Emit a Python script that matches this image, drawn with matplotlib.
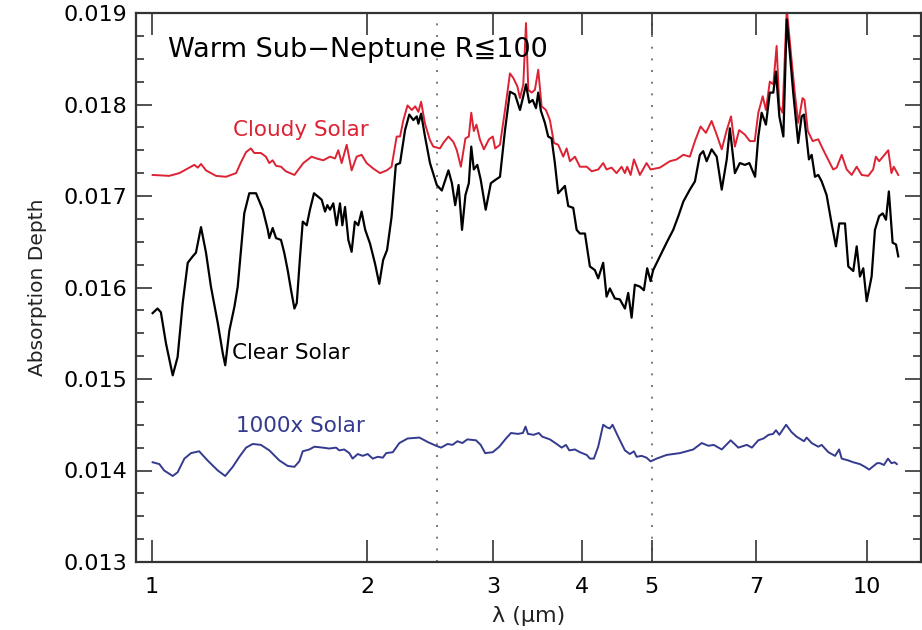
import numpy as np
import matplotlib
matplotlib.use("Agg")
import matplotlib.pyplot as plt
from matplotlib.ticker import FixedLocator, NullLocator, MultipleLocator, FormatStrFormatter

plt.rcParams['font.family'] = ['DejaVu Sans']

# wavelength (micron) / absorption depth
clear_x = [1.002, 1.018, 1.029, 1.046, 1.069, 1.086, 1.104, 1.122, 1.140, 1.152,
           1.171, 1.190, 1.209, 1.236, 1.256, 1.266, 1.283, 1.304, 1.318, 1.332,
           1.346, 1.368, 1.398, 1.429, 1.452, 1.459, 1.475, 1.491, 1.515, 1.531,
           1.548, 1.565, 1.582, 1.594, 1.611, 1.625, 1.646, 1.663, 1.685, 1.709,
           1.727, 1.746, 1.759, 1.774, 1.793, 1.812, 1.832, 1.846, 1.862, 1.882,
           1.902, 1.922, 1.943, 1.964, 1.987, 2.018, 2.051, 2.079, 2.105, 2.132,
           2.163, 2.193, 2.223, 2.259, 2.290, 2.320, 2.346, 2.358, 2.379, 2.409,
           2.448, 2.502, 2.543, 2.570, 2.598, 2.627, 2.655, 2.684, 2.714, 2.744,
           2.774, 2.796, 2.819, 2.851, 2.882, 2.929, 2.978, 3.027, 3.067, 3.117,
           3.167, 3.219, 3.271, 3.306, 3.335, 3.370, 3.407, 3.444, 3.469, 3.499,
           3.544, 3.582, 3.621, 3.660, 3.699, 3.740, 3.780, 3.821, 3.883, 3.926,
           3.967, 4.032, 4.097, 4.163, 4.208, 4.276, 4.323, 4.369, 4.440, 4.512,
           4.586, 4.635, 4.686, 4.735, 4.812, 4.875, 4.927, 4.981, 5.023, 5.133,
           5.245, 5.358, 5.447, 5.536, 5.653, 5.746, 5.838, 5.901, 5.967, 6.063,
           6.163, 6.264, 6.366, 6.430, 6.535, 6.640, 6.750, 6.846, 6.974, 7.047,
           7.123, 7.222, 7.313, 7.396, 7.459, 7.541, 7.639, 7.723, 7.800, 7.885,
           8.013, 8.102, 8.163, 8.234, 8.295, 8.368, 8.458, 8.548, 8.642, 8.781,
           8.923, 9.048, 9.146, 9.316, 9.416, 9.568, 9.674, 9.776, 9.881, 9.990,
           10.15, 10.26, 10.40, 10.52, 10.63, 10.73, 10.86, 10.98, 11.06]
clear_y = [0.01572, 0.01577, 0.01573, 0.01539, 0.01504, 0.01524, 0.01583, 0.01627, 0.01634, 0.01638,
           0.01666, 0.01638, 0.01601, 0.01561, 0.01528, 0.01515, 0.01553, 0.01579, 0.01601, 0.01641,
           0.01681, 0.01703, 0.01703, 0.01685, 0.01663, 0.01654, 0.01665, 0.01654, 0.01652, 0.01638,
           0.01619, 0.01597, 0.01577, 0.01583, 0.01634, 0.01672, 0.01668, 0.01685, 0.01703, 0.01699,
           0.01696, 0.01683, 0.01690, 0.01685, 0.01692, 0.01668, 0.01692, 0.01668, 0.01688, 0.01652,
           0.01639, 0.01672, 0.01668, 0.01683, 0.01663, 0.01648, 0.01626, 0.01604, 0.01630, 0.01641,
           0.01677, 0.01734, 0.01736, 0.01772, 0.01789, 0.01783, 0.01787, 0.01779, 0.01790, 0.01765,
           0.01736, 0.01712, 0.01706, 0.01717, 0.01728, 0.01714, 0.01690, 0.01712, 0.01663, 0.01701,
           0.01714, 0.01754, 0.01729, 0.01734, 0.01718, 0.01685, 0.01714, 0.01718, 0.01721, 0.01772,
           0.01814, 0.01811, 0.01794, 0.01809, 0.01822, 0.01802, 0.01805, 0.01796, 0.01813, 0.01793,
           0.01780, 0.01765, 0.01763, 0.01736, 0.01703, 0.01707, 0.01711, 0.01689, 0.01687, 0.01663,
           0.01659, 0.01659, 0.01623, 0.01619, 0.01610, 0.01627, 0.01590, 0.01599, 0.01588, 0.01587,
           0.01577, 0.01594, 0.01567, 0.01603, 0.01601, 0.01597, 0.01621, 0.01607, 0.01619, 0.01634,
           0.01649, 0.01663, 0.01678, 0.01694, 0.01707, 0.01716, 0.01745, 0.01749, 0.01738, 0.01751,
           0.01743, 0.01707, 0.01740, 0.01774, 0.01725, 0.01736, 0.01734, 0.01736, 0.01721, 0.01765,
           0.01791, 0.01778, 0.01813, 0.01813, 0.01836, 0.01787, 0.01765, 0.01893, 0.01856, 0.01813,
           0.01758, 0.01787, 0.01789, 0.01762, 0.01740, 0.01745, 0.01721, 0.01723, 0.01716, 0.01701,
           0.01670, 0.01645, 0.01670, 0.01670, 0.01623, 0.01618, 0.01645, 0.01612, 0.01621, 0.01585,
           0.01612, 0.01663, 0.01678, 0.01681, 0.01674, 0.01705, 0.01649, 0.01647, 0.01634]

cloudy_x = [1.002, 1.057, 1.092, 1.128, 1.146, 1.159, 1.171, 1.190, 1.229, 1.269,
            1.311, 1.332, 1.354, 1.375, 1.390, 1.420, 1.443, 1.459, 1.475, 1.491,
            1.515, 1.539, 1.582, 1.628, 1.672, 1.699, 1.736, 1.774, 1.803, 1.822,
            1.842, 1.872, 1.902, 1.933, 1.964, 1.996, 2.039, 2.084, 2.130, 2.163,
            2.199, 2.223, 2.247, 2.277, 2.309, 2.334, 2.358, 2.379, 2.409, 2.448,
            2.474, 2.528, 2.555, 2.598, 2.640, 2.669, 2.704, 2.744, 2.774, 2.796,
            2.819, 2.843, 2.874, 2.912, 2.960, 2.997, 3.020, 3.067, 3.117, 3.167,
            3.201, 3.243, 3.271, 3.306, 3.335, 3.360, 3.396, 3.432, 3.469, 3.507,
            3.556, 3.602, 3.649, 3.699, 3.760, 3.801, 3.842, 3.904, 3.967, 4.055,
            4.121, 4.208, 4.276, 4.323, 4.393, 4.464, 4.537, 4.586, 4.620, 4.671,
            4.721, 4.812, 4.917, 4.981, 5.133, 5.301, 5.417, 5.536, 5.653, 5.746,
            5.851, 5.953, 6.063, 6.163, 6.264, 6.366, 6.454, 6.535, 6.625, 6.750,
            6.857, 6.966, 7.047, 7.148, 7.222, 7.313, 7.396, 7.475, 7.541, 7.620,
            7.723, 7.843, 7.925, 8.013, 8.126, 8.177, 8.265, 8.395, 8.548, 8.642,
            8.781, 8.968, 9.070, 9.218, 9.367, 9.520, 9.674, 9.831, 10.04, 10.20,
            10.29, 10.40, 10.71, 10.82, 10.90, 11.06]
cloudy_y = [0.01723, 0.01722, 0.01725, 0.01731, 0.01734, 0.01731, 0.01735, 0.01728, 0.01722, 0.01721,
            0.01725, 0.01737, 0.01748, 0.01752, 0.01747, 0.01747, 0.01743, 0.01736, 0.01739, 0.01733,
            0.01732, 0.01727, 0.01723, 0.01736, 0.01743, 0.01741, 0.01739, 0.01743, 0.01741, 0.01750,
            0.01736, 0.01756, 0.01728, 0.01743, 0.01745, 0.01736, 0.01730, 0.01725, 0.01728, 0.01732,
            0.01765, 0.01765, 0.01783, 0.01799, 0.01794, 0.01798, 0.01792, 0.01803, 0.01779, 0.01761,
            0.01754, 0.01752, 0.01758, 0.01765, 0.01759, 0.01750, 0.01732, 0.01763, 0.01765, 0.01791,
            0.01771, 0.01778, 0.01762, 0.01751, 0.01762, 0.01765, 0.01752, 0.01756, 0.01794, 0.01834,
            0.01829, 0.01820, 0.01807, 0.01822, 0.01889, 0.01816, 0.01813, 0.01816, 0.01838, 0.01798,
            0.01794, 0.01783, 0.01758, 0.01756, 0.01743, 0.01752, 0.01738, 0.01743, 0.01732, 0.01732,
            0.01727, 0.01729, 0.01736, 0.01729, 0.01731, 0.01725, 0.01732, 0.01725, 0.01732, 0.01723,
            0.01740, 0.01723, 0.01736, 0.01729, 0.01731, 0.01738, 0.01740, 0.01745, 0.01743, 0.01760,
            0.01776, 0.01769, 0.01782, 0.01767, 0.01751, 0.01772, 0.01787, 0.01754, 0.01772, 0.01767,
            0.01760, 0.01760, 0.01791, 0.01809, 0.01794, 0.01825, 0.01822, 0.01864, 0.01798, 0.01791,
            0.01905, 0.01849, 0.01813, 0.01780, 0.01807, 0.01805, 0.01771, 0.01760, 0.01762, 0.01754,
            0.01743, 0.01729, 0.01731, 0.01745, 0.01729, 0.01723, 0.01732, 0.01723, 0.01722, 0.01729,
            0.01743, 0.01738, 0.01750, 0.01725, 0.01732, 0.01723]

rich_x = [1.002, 1.024, 1.040, 1.069, 1.086, 1.110, 1.134, 1.164, 1.196, 1.236,
          1.266, 1.297, 1.325, 1.354, 1.383, 1.420, 1.459, 1.507, 1.548, 1.582,
          1.607, 1.625, 1.660, 1.687, 1.733, 1.770, 1.809, 1.828, 1.857, 1.888,
          1.908, 1.940, 1.971, 2.003, 2.036, 2.069, 2.103, 2.126, 2.172, 2.218,
          2.278, 2.366, 2.432, 2.497, 2.537, 2.591, 2.632, 2.674, 2.717, 2.761,
          2.839, 2.882, 2.924, 2.996, 3.060, 3.127, 3.178, 3.248, 3.302, 3.330,
          3.356, 3.418, 3.475, 3.514, 3.602, 3.681, 3.741, 3.793, 3.834, 3.904,
          3.967, 4.055, 4.097, 4.150, 4.208, 4.276, 4.330, 4.369, 4.407, 4.487,
          4.586, 4.660, 4.721, 4.762, 4.839, 4.917, 4.981, 5.079, 5.245, 5.474,
          5.715, 5.873, 6.003, 6.103, 6.264, 6.448, 6.607, 6.791, 6.903, 7.047,
          7.165, 7.284, 7.390, 7.459, 7.541, 7.707, 7.843, 7.970, 8.163, 8.234,
          8.368, 8.548, 8.642, 8.830, 9.023, 9.141, 9.218, 9.416, 9.568, 9.776,
          9.935, 10.07, 10.33, 10.43, 10.56, 10.70, 10.82, 10.93, 11.01]
rich_y = [0.01409, 0.01407, 0.01400, 0.01394, 0.01398, 0.01413, 0.01419, 0.01421, 0.01411, 0.01400,
          0.01394, 0.01404, 0.01415, 0.01425, 0.01429, 0.01428, 0.01422, 0.01411, 0.01405, 0.01404,
          0.01410, 0.01421, 0.01423, 0.01426, 0.01425, 0.01424, 0.01425, 0.01422, 0.01423, 0.01419,
          0.01413, 0.01418, 0.01416, 0.01418, 0.01413, 0.01415, 0.01414, 0.01419, 0.01420, 0.01430,
          0.01435, 0.01436, 0.01431, 0.01427, 0.01425, 0.01429, 0.01428, 0.01432, 0.01430, 0.01434,
          0.01433, 0.01428, 0.01419, 0.01420, 0.01426, 0.01435, 0.01441, 0.01440, 0.01441, 0.01448,
          0.01440, 0.01439, 0.01441, 0.01437, 0.01434, 0.01429, 0.01425, 0.01428, 0.01422, 0.01423,
          0.01420, 0.01417, 0.01413, 0.01413, 0.01426, 0.01450, 0.01447, 0.01446, 0.01450, 0.01437,
          0.01422, 0.01418, 0.01421, 0.01415, 0.01416, 0.01414, 0.01410, 0.01413, 0.01417, 0.01419,
          0.01423, 0.01430, 0.01427, 0.01428, 0.01423, 0.01433, 0.01425, 0.01428, 0.01425, 0.01433,
          0.01435, 0.01439, 0.01440, 0.01444, 0.01439, 0.01450, 0.01442, 0.01437, 0.01432, 0.01436,
          0.01430, 0.01426, 0.01428, 0.01420, 0.01416, 0.01423, 0.01413, 0.01411, 0.01409, 0.01407,
          0.01404, 0.01401, 0.01408, 0.01408, 0.01406, 0.01413, 0.01408, 0.01409, 0.01407]

xticks = [1, 2, 3, 4, 5, 7, 10]
yticks = [0.013, 0.014, 0.015, 0.016, 0.017, 0.018, 0.019]
band_edges = [2.5, 5.0]

red = '#dd2233'
navy = '#343a8e'

fig = plt.figure(figsize=(9.22, 6.3), dpi=100)
ax = fig.add_axes([136 / 922, 1 - 562 / 630, 785 / 922, 549 / 630])

for xv in band_edges:
    ax.axvline(xv, color='#777777', lw=1.4, ls=(0, (1, 5)), zorder=1)

ax.plot(cloudy_x, cloudy_y, color=red, lw=1.4, zorder=2)
ax.plot(clear_x, clear_y, color='black', lw=1.6, zorder=3)
ax.plot(rich_x, rich_y, color=navy, lw=1.4, zorder=2)

ax.set_xscale('log')
ax.set_xlim(0.9498, 11.9)
ax.set_ylim(0.013, 0.019)

ax.xaxis.set_major_locator(FixedLocator(xticks))
ax.xaxis.set_minor_locator(NullLocator())
ax.set_xticklabels([str(t) for t in xticks])
ax.yaxis.set_major_locator(FixedLocator(yticks))
ax.yaxis.set_minor_locator(MultipleLocator(0.00025))
ax.yaxis.set_major_formatter(FormatStrFormatter('%.3f'))

ax.tick_params(axis='x', which='major', direction='in', length=16, width=1.2,
               top=True, labelsize=16, pad=11, color='#333333')
ax.tick_params(axis='y', which='major', direction='in', length=11.5, width=1.2,
               right=True, labelsize=16, pad=6, color='#333333')
ax.tick_params(axis='y', which='minor', direction='in', length=6, width=1.2,
               right=True, color='#333333')
for sp in ax.spines.values():
    sp.set_linewidth(1.6)
    sp.set_color('#333333')

ax.set_ylabel('Absorption Depth', fontsize=14.5, labelpad=12, color='#222222')
ax.set_xlabel('λ (μm)', fontsize=16, labelpad=6, color='#222222')

# label positions in axes fractions
ax.text(0.041, 0.933, 'Warm Sub\u2212Neptune R\u2266100', transform=ax.transAxes,
        fontsize=19.5, va='center', ha='left', color='black')
ax.text(0.124, 0.787, 'Cloudy Solar', transform=ax.transAxes, fontsize=15.5,
        va='center', ha='left', color=red)
ax.text(0.122, 0.381, 'Clear Solar', transform=ax.transAxes, fontsize=15.5,
        va='center', ha='left', color='black')
ax.text(0.127, 0.248, '1000x Solar', transform=ax.transAxes, fontsize=15.5,
        va='center', ha='left', color=navy)

fig.savefig('out.png', dpi=100)
